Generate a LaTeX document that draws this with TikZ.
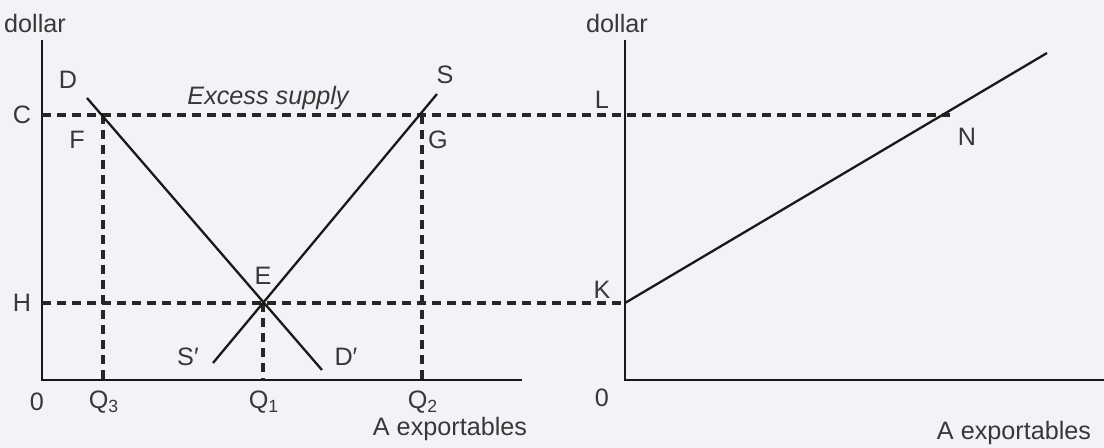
\documentclass[tikz,border=0pt]{standalone}
\usepackage{fontspec}
\setmainfont{Liberation Sans}
\usepackage{tikz}
\usetikzlibrary{positioning,calc}

\begin{document}
\begin{tikzpicture}[
    x=0.5pt, y=-0.5pt,
    axis/.style={line width=1.25pt, black!90},
    curve/.style={line width=1.15pt, black!90},
    guide/.style={line width=1.6pt, black!85, dash pattern=on 4.5pt off 3pt},
    lbl/.style={font=\fontsize{12.6}{14}\selectfont, text=black!78, inner sep=1pt}
  ]
    \useasboundingbox[fill={rgb,255:red,241;green,243;blue,246}] (0,0) rectangle (1104,448);

    %--- left panel points ---
    \coordinate (O1)   at (42,380);
    \coordinate (Y1)   at (42,40);
    \coordinate (X1)   at (522,380);
    \coordinate (C)    at (42,115);
    \coordinate (H)    at (42,303);
    \coordinate (F)    at (103,115);
    \coordinate (G)    at (422,115);
    \coordinate (E)    at (263,303);
    \coordinate (Q3)   at (103,380);
    \coordinate (Q1)   at (263,380);
    \coordinate (Q2)   at (422,380);
    \coordinate (Dtop) at (87,98);
    \coordinate (Dbot) at (322,370);
    \coordinate (Stop) at (437,94);
    \coordinate (Sbot) at (213,363);

    %--- right panel points ---
    \coordinate (O2)   at (625,380);
    \coordinate (Y2)   at (625,40);
    \coordinate (X2)   at (1104,380);
    \coordinate (K)    at (625,303);
    \coordinate (N)    at (950,115);
    \coordinate (Send) at (1047,53);

    %--- axes ---
    \draw[axis] (Y1) -- (O1) -- (X1);
    \draw[axis] (Y2) -- (O2) -- (X2);

    %--- guide lines ---
    \draw[guide] (C) -- (N);
    \draw[guide] (H) -- (K);
    \draw[guide] (F) -- (Q3);
    \draw[guide] (E) -- (Q1);
    \draw[guide] (G) -- (Q2);

    %--- curves ---
    \draw[curve] (Dtop) -- (Dbot);
    \draw[curve] (Sbot) -- (Stop);
    \draw[curve] (K) -- (Send);

    %--- labels, left panel ---
    \node[lbl] (ly1)  at (35,23)   {dollar};
    \node[lbl] (lD)   at (68,80)   {D};
    \node[lbl, font=\fontsize{12.6}{14}\selectfont\itshape] (lex) at (268,98) {Excess supply};
    \node[lbl] (lS)   at (445,75)  {S};
    \node[lbl] (lC)   at (22,115)  {C};
    \node[lbl] (lF)   at (77,140)  {F};
    \node[lbl] (lG)   at (438,140) {G};
    \node[lbl] (lE)   at (263,276) {E};
    \node[lbl] (lH)   at (22,303)  {H};
    \node[lbl] (lSp)  at (188,357) {S′};
    \node[lbl] (lDp)  at (346,357) {D′};
    \node[lbl] (l01)  at (37,402)  {0};
    \node[lbl] (lQ3)  at (104,402) {Q\textsubscript{3}};
    \node[lbl] (lQ1)  at (264,402) {Q\textsubscript{1}};
    \node[lbl] (lQ2)  at (423,402) {Q\textsubscript{2}};
    \node[lbl] (lx1)  at (450,429) {A exportables};

    %--- labels, right panel ---
    \node[lbl] (ly2)  at (617,23)  {dollar};
    \node[lbl] (lL)   at (602,100) {L};
    \node[lbl] (lN)   at (967,137) {N};
    \node[lbl] (lK)   at (602,290) {K};
    \node[lbl] (l02)  at (602,398) {0};
    \node[lbl] (lx2)  at (1014,433) {A exportables};
\end{tikzpicture}
\end{document}
